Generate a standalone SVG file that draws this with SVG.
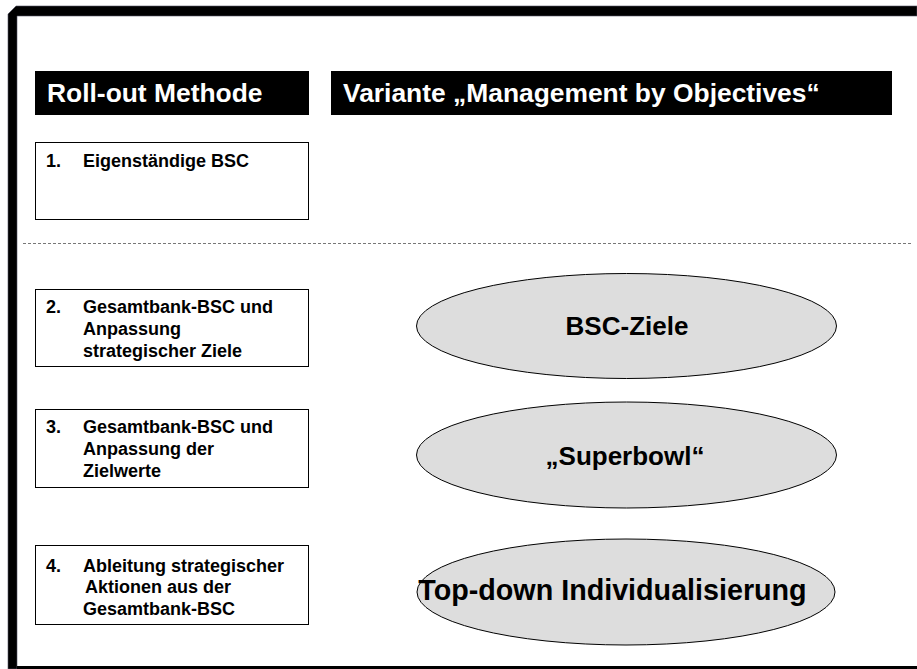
<svg xmlns="http://www.w3.org/2000/svg" width="917" height="669" viewBox="0 0 917 669">
<style>
.hdr{fill:#000}
.hdrtxt{font-family:"Liberation Sans",Arial,sans-serif;font-weight:bold;font-size:26.4px;fill:#fff}
.box{fill:#fff;stroke:#000;stroke-width:1}
.txt{font-family:"Liberation Sans",Arial,sans-serif;font-weight:bold;font-size:18px;fill:#000}
.ell{fill:#dddddd;stroke:#000;stroke-width:1}
.etxt{font-family:"Liberation Sans",Arial,sans-serif;font-weight:bold;font-size:26px;fill:#000;text-anchor:middle}
.sep{stroke:#777;stroke-width:1.2;stroke-dasharray:3 2;fill:none}
</style>
<rect width="917" height="669" fill="#fff"/>
<g id="frame">
<path d="M8,669 V14 L16,6 H917 V16 H17 V669 Z" fill="#000" stroke="#556" stroke-width="0.6"/>
<rect x="17" y="666" width="900" height="3" fill="#000"/>
</g>
<g id="header-rollout">
<rect class="hdr" x="35" y="71" width="274" height="44"/>
<text class="hdrtxt" x="47" y="102">Roll-out Methode</text>
</g>
<g id="header-variante">
<rect class="hdr" x="331" y="71" width="561" height="44"/>
<text class="hdrtxt" x="343" y="102">Variante „Management by Objectives“</text>
</g>
<g id="box1">
<rect class="box" x="35.5" y="142.5" width="273" height="77"/>
<text class="txt" x="46" y="167">1.</text>
<text class="txt" x="83" y="167">Eigenständige BSC</text>
</g>
<g id="connectors">
<line class="sep" x1="23" y1="243.5" x2="912" y2="243.5"/>
</g>
<g id="box2">
<rect class="box" x="35.5" y="289.5" width="273" height="77"/>
<text class="txt" x="46" y="313">2.</text>
<text class="txt" x="83" y="313">Gesamtbank-BSC und</text>
<text class="txt" x="83" y="335">Anpassung</text>
<text class="txt" x="83" y="357">strategischer Ziele</text>
</g>
<g id="box3">
<rect class="box" x="35.5" y="409.5" width="273" height="78"/>
<text class="txt" x="46" y="433">3.</text>
<text class="txt" x="83" y="433">Gesamtbank-BSC und</text>
<text class="txt" x="83" y="455">Anpassung der</text>
<text class="txt" x="83" y="477">Zielwerte</text>
</g>
<g id="box4">
<rect class="box" x="35.5" y="545.5" width="273" height="79"/>
<text class="txt" x="46" y="572">4.</text>
<text class="txt" x="83" y="572">Ableitung strategischer</text>
<text class="txt" x="85" y="593">Aktionen aus der</text>
<text class="txt" x="83" y="615">Gesamtbank-BSC</text>
</g>
<g id="ellipse-bsc-ziele">
<ellipse class="ell" cx="626.5" cy="326" rx="210" ry="52.5"/>
<text class="etxt" x="627" y="335">BSC-Ziele</text>
</g>
<g id="ellipse-superbowl">
<ellipse class="ell" cx="626.5" cy="455" rx="210" ry="53"/>
<text class="etxt" x="625" y="465">„Superbowl“</text>
</g>
<g id="ellipse-topdown">
<ellipse class="ell" cx="626" cy="592" rx="209" ry="53"/>
<text class="etxt" x="612.5" y="600" style="font-size:28.7px">Top-down Individualisierung</text>
</g>
</svg>
